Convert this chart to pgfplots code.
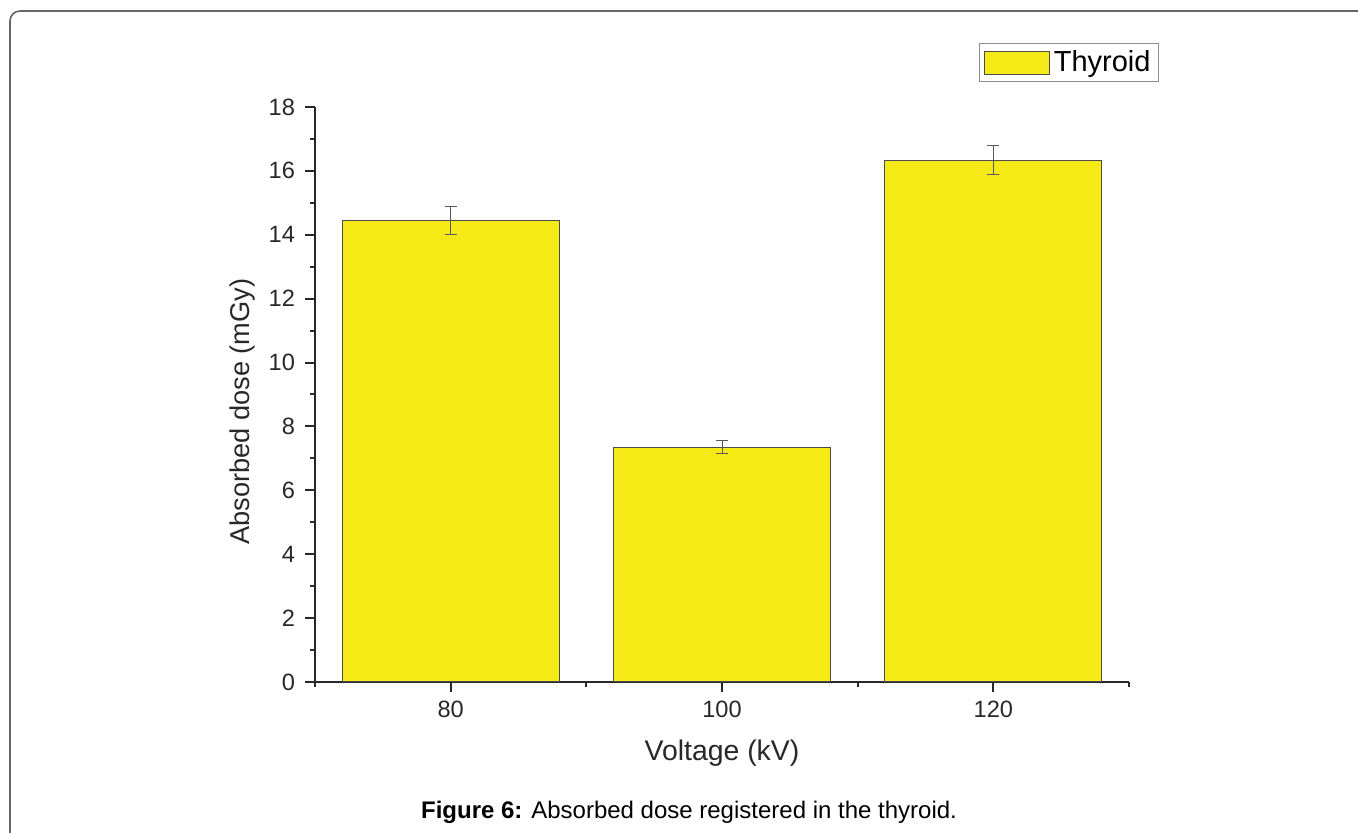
\documentclass[border=0pt]{standalone}
\usepackage{fontspec}
\setmainfont{Liberation Sans}
\usepackage{pgfplots}
\pgfplotsset{compat=1.18}
\definecolor{baryel}{RGB}{245,234,22}
\definecolor{axcol}{RGB}{40,40,40}
\begin{document}
\begin{tikzpicture}
\begin{axis}[
  at={(157.5pt,75.5pt)}, anchor=south west,
  scale only axis, width=407pt, height=287.5pt,
  xmin=-0.5, xmax=2.5, ymin=0, ymax=18,
  axis x line=bottom, axis y line=left,
  axis line style={-, line width=1pt, color=axcol},
  xtick={0,1,2}, xticklabels={80,100,120},
  minor xtick={-0.5,0.5,1.5,2.5},
  ytick={0,2,...,18}, minor ytick={1,3,...,17},
  tick align=outside, major tick length=5pt, minor tick length=2.5pt,
  every tick/.style={line width=1pt, axcol},
  ybar, bar width=0.8,
  /pgf/number format/assume math mode=true,
  ticklabel style={font=\fontsize{11.8}{14}\selectfont, text=axcol},
  xticklabel style={yshift=-1pt},
  yticklabel style={xshift=-1.5pt},
  xlabel={Voltage (kV)}, ylabel={Absorbed dose (mGy)},
  xlabel style={at={(axis description cs:0.5,-0.1235)}, anchor=center, font=\fontsize{14.2}{16}\selectfont, text=axcol},
  ylabel style={at={(axis description cs:-0.0897,0.47)}, anchor=center, font=\fontsize{13.6}{16}\selectfont, text=axcol},
  legend style={at={(0.8157,1.111)}, anchor=north west, draw=black!45, line width=0.6pt,
    font=\fontsize{14.5}{17}\selectfont, inner xsep=2pt, inner ysep=1.5pt},
  legend cell align=left,
]
\addplot[fill=baryel, draw=black!70, line width=0.6pt,
  legend image code/.code={\draw[fill=baryel, draw=black!70, line width=0.6pt] (0pt,-5.75pt) rectangle (32.5pt,5.75pt);},
  error bars/.cd, y dir=both, y explicit,
  error bar style={line width=0.5pt, black!65},
  error mark options={rotate=90, mark size=3pt, line width=0.5pt, black!65}]
  coordinates {(0,14.44) +- (0,0.44) (1,7.35) +- (0,0.2) (2,16.33) +- (0,0.45)};
\addlegendentry{Thyroid}
\end{axis}
\node[font=\fontsize{12}{14}\selectfont] at (344.5pt,10.5pt) {\textbf{Figure 6:} Absorbed dose registered in the thyroid.};
\draw[line width=0.8pt, black!60, rounded corners=5pt] (720pt,411pt) -- (5pt,411pt) -- (5pt,-30pt);
\pgfresetboundingbox
\path[use as bounding box] (0,0) rectangle (679pt,416.5pt);
\end{tikzpicture}
\end{document}
